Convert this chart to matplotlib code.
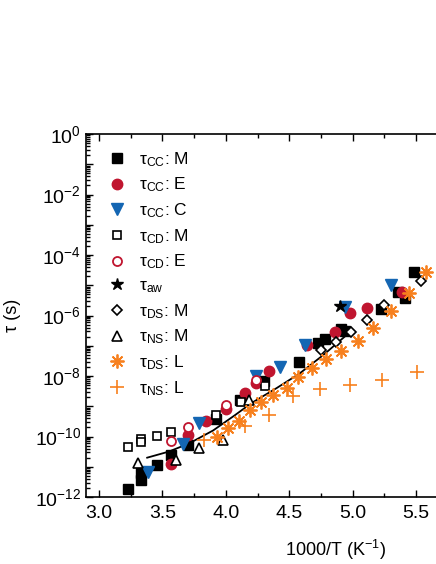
import numpy as np
import matplotlib
matplotlib.use("Agg")
import matplotlib.pyplot as plt
from matplotlib.ticker import LogLocator, FuncFormatter, MultipleLocator, NullFormatter

plt.rcParams['font.family'] = ['Liberation Sans', 'DejaVu Sans']
plt.rcParams['mathtext.fontset'] = 'custom'
plt.rcParams['mathtext.rm'] = 'Liberation Sans'
plt.rcParams['mathtext.it'] = 'Liberation Sans:italic'
plt.rcParams['mathtext.default'] = 'regular'

# ---- data: x = 1000/T (K^-1), values = log10(tau / s) ----
cc_m_x = [3.23, 3.33, 3.33, 3.46, 3.57, 3.70, 3.92, 4.11, 4.30, 4.58, 4.73, 4.78, 4.91, 4.94, 5.22, 5.36, 5.41, 5.48]
cc_m_y = [-11.74, -11.22, -11.44, -10.94, -10.61, -10.28, -9.43, -8.80, -8.15, -7.53, -6.92, -6.79, -6.43, -6.52, -5.80, -5.21, -5.43, -4.55]

cc_e_x = [3.57, 3.70, 3.84, 4.00, 4.15, 4.24, 4.34, 4.64, 4.86, 4.98, 5.11, 5.39]
cc_e_y = [-10.91, -9.95, -9.48, -9.08, -8.57, -8.24, -7.82, -6.98, -6.53, -5.93, -5.76, -5.21]

cc_c_x = [3.39, 3.66, 3.79, 4.24, 4.43, 4.62, 4.94, 5.30]
cc_c_y = [-11.17, -10.26, -9.56, -8.00, -7.69, -6.98, -5.71, -4.99]

cd_m_x = [3.23, 3.33, 3.33, 3.46, 3.57, 3.92, 4.12, 4.31]
cd_m_y = [-10.34, -10.08, -10.18, -9.98, -9.86, -9.29, -8.85, -8.33]

cd_e_x = [3.57, 3.70, 4.00, 4.24]
cd_e_y = [-10.16, -9.68, -8.95, -8.12]

aw_x = [4.90]
aw_y = [-5.69]

ds_m_x = [4.75, 4.87, 4.99, 5.11, 5.25, 5.54]
ds_m_y = [-7.14, -6.88, -6.56, -6.15, -5.65, -4.86]

ns_m_x = [3.31, 3.61, 3.79, 3.98, 4.18]
ns_m_y = [-10.87, -10.78, -10.39, -10.12, -8.78]

ds_l_x = [3.93, 4.02, 4.10, 4.19, 4.28, 4.375, 4.48, 4.57, 4.68, 4.79, 4.91, 5.04, 5.16, 5.30, 5.44, 5.58]
ds_l_y = [-10.02, -9.72, -9.48, -9.12, -8.85, -8.63, -8.40, -8.02, -7.75, -7.43, -7.17, -6.85, -6.42, -5.85, -5.27, -4.56]

ns_l_x = [3.83, 4.15, 4.34, 4.53, 4.74, 4.98, 5.23, 5.51]
ns_l_y = [-10.10, -9.65, -9.29, -8.67, -8.44, -8.31, -8.13, -7.86]

fit_x = [3.38, 3.55, 3.71, 3.90, 4.07, 4.20, 4.40, 4.58, 4.77, 4.95]
fit_y = [-10.70, -10.50, -10.23, -9.80, -9.30, -8.90, -8.40, -7.92, -7.30, -6.65]

RED = '#C0152F'
BLUE = '#1466B3'
ORANGE = '#F7801E'

fig = plt.figure(figsize=(4.36, 5.64), dpi=100)
ax = fig.add_axes([86/436, 67/564, 350/436, 363/564])

def pw(v):
    return 10.0 ** np.asarray(v)

ax.plot(fit_x, pw(fit_y), '-', color='black', lw=1.3, zorder=2)

ax.plot(cc_m_x, pw(cc_m_y), ls='none', marker='s', ms=6.5, color='black', label=r'τ$_{CC}$: M', zorder=3)
ax.plot(cc_e_x, pw(cc_e_y), ls='none', marker='o', ms=7.5, color=RED, label=r'τ$_{CC}$: E', zorder=3)
ax.plot(cc_c_x, pw(cc_c_y), ls='none', marker='v', ms=8, color=BLUE, label=r'τ$_{CC}$: C', zorder=3)
ax.plot(cd_m_x, pw(cd_m_y), ls='none', marker='s', ms=6, mfc='white', mec='black', mew=1.2, label=r'τ$_{CD}$: M', zorder=3)
ax.plot(cd_e_x, pw(cd_e_y), ls='none', marker='o', ms=6.5, mfc='white', mec=RED, mew=1.3, label=r'τ$_{CD}$: E', zorder=3)
ax.plot(aw_x, pw(aw_y), ls='none', marker='*', ms=9, color='black', label=r'τ$_{aw}$', zorder=4)
ax.plot(ds_m_x, pw(ds_m_y), ls='none', marker='D', ms=5.5, mfc='white', mec='black', mew=1.2, label=r'τ$_{DS}$: M', zorder=3)
ax.plot(ns_m_x, pw(ns_m_y), ls='none', marker='^', ms=7.5, mfc='white', mec='black', mew=1.2, label=r'τ$_{NS}$: M', zorder=3)
ax.plot(ds_l_x, pw(ds_l_y), ls='none', marker=(8, 2, 0), ms=10, color=ORANGE, mew=1.3, label=r'τ$_{DS}$: L', zorder=3)
ax.plot(ns_l_x, pw(ns_l_y), ls='none', marker='+', ms=10, color=ORANGE, mew=1.2, label=r'τ$_{NS}$: L', zorder=3)

ax.set_yscale('log')
ax.set_ylim(1e-12, 1)
ax.set_xlim(2.898, 5.656)

ax.xaxis.set_major_locator(MultipleLocator(0.5))
ax.xaxis.set_minor_locator(MultipleLocator(0.25))
ax.xaxis.set_major_formatter(FuncFormatter(lambda v, p: f'{v:.1f}'))

ax.yaxis.set_major_locator(LogLocator(base=10, numticks=30))
ax.yaxis.set_minor_locator(LogLocator(base=10, subs=np.arange(2, 10), numticks=30))
ax.yaxis.set_minor_formatter(NullFormatter())

def yfmt(v, p):
    e = int(round(np.log10(v)))
    if e % 2 == 0:
        return r'10$^{%d}$' % e
    return ''
ax.yaxis.set_major_formatter(FuncFormatter(yfmt))

ax.tick_params(which='both', direction='in', top=True, right=False, width=1.0)
ax.tick_params(which='major', length=5, labelsize=14)
ax.tick_params(which='minor', length=3)
ax.tick_params(axis='x', pad=6)
ax.spines['right'].set_visible(False)
for s in ['left', 'top', 'bottom']:
    ax.spines[s].set_linewidth(1.2)

ax.set_xlabel('1000/T (K$^{-1}$)', fontsize=13)
ax.xaxis.set_label_coords((335 - 86) / 350, -0.113)
ax.set_ylabel('τ (s)', fontsize=13)
ax.yaxis.set_label_coords(-0.185, 0.5)

leg = ax.legend(loc='upper left', bbox_to_anchor=(0.045, 0.975), frameon=False, fontsize=12.5,
                handlelength=1.0, handletextpad=0.75, labelspacing=0.4, borderaxespad=0.0,
                numpoints=1)

fig.savefig('out.png', dpi=100)
